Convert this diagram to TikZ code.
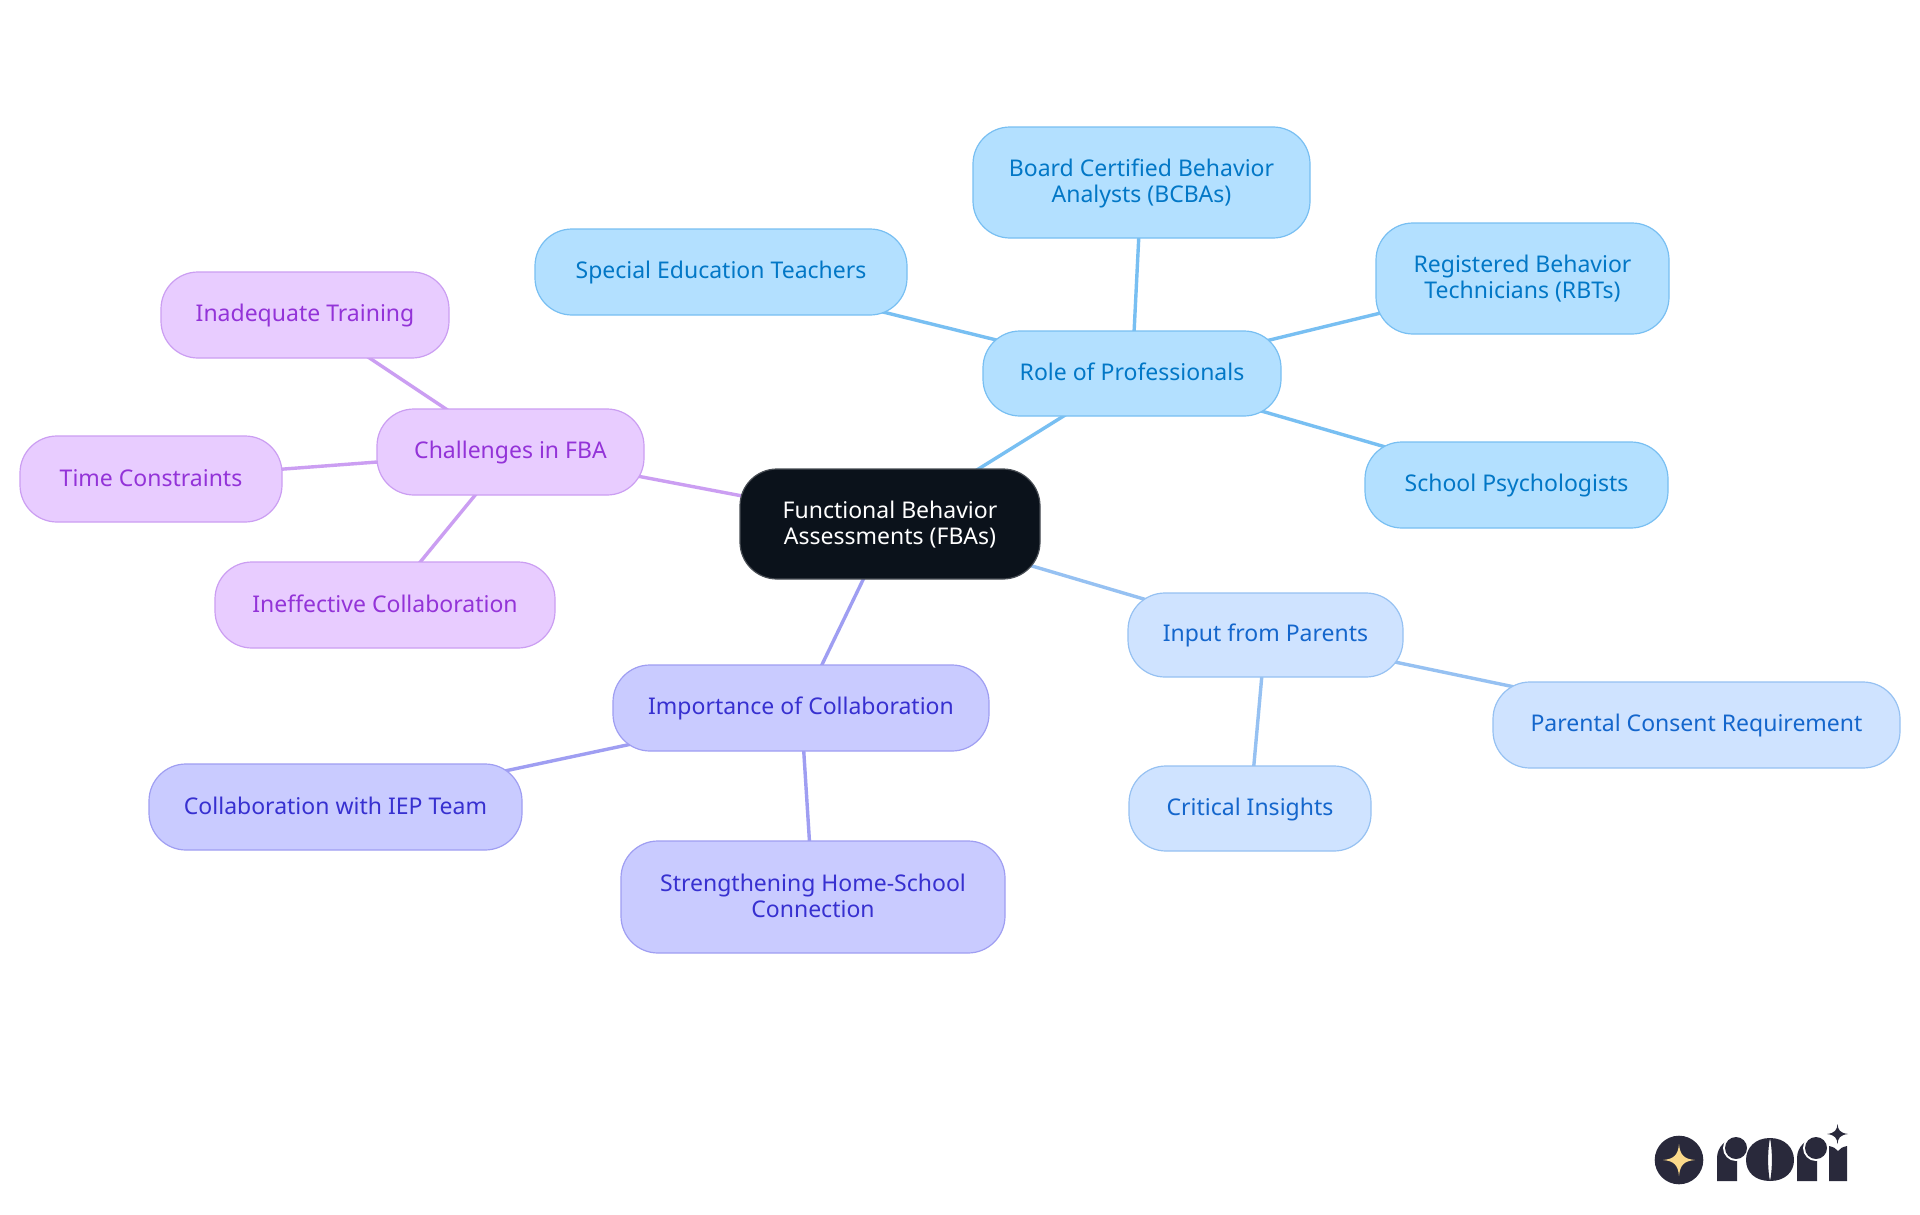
\documentclass[tikz,border=0pt]{standalone}
\usepackage{fontspec}
\setmainfont{Noto Sans}
\usetikzlibrary{backgrounds}
\definecolor{cfill}{HTML}{0B121B}
\definecolor{bfill}{HTML}{B3E0FF}\definecolor{bline}{HTML}{78BFF2}\definecolor{btext}{HTML}{0277C6}
\definecolor{pfill}{HTML}{CFE3FF}\definecolor{pline}{HTML}{96C1F2}\definecolor{ptext}{HTML}{1466CC}
\definecolor{ifill}{HTML}{C9CBFF}\definecolor{iline}{HTML}{9F9EF2}\definecolor{itext}{HTML}{3730D0}
\definecolor{vfill}{HTML}{E8CCFF}\definecolor{vline}{HTML}{CB9EF2}\definecolor{vtext}{HTML}{9333D8}
\definecolor{logod}{HTML}{29293B}\definecolor{logoy}{HTML}{FBD98A}
\tikzset{
 x=1pt,y=-1pt,
 box/.style={draw,rounded corners=37pt,line width=1.2pt,align=center,inner sep=0pt,
   font=\fontsize{23}{25.6}\selectfont},
 cnode/.style={box,fill=cfill,draw=cfill!75!white,text=white},
 bnode/.style={box,fill=bfill,draw=bline,text=btext},
 pnode/.style={box,fill=pfill,draw=pline,text=ptext},
 inode/.style={box,fill=ifill,draw=iline,text=itext},
 vnode/.style={box,fill=vfill,draw=vline,text=vtext},
 link/.style={line width=3.4pt},
}
\newcommand{\mynode}[7]{% style,name,x0,y0,x1,y1,text
 \node[#1,minimum width={#5pt-#3pt},minimum height={#6pt-#4pt}] (#2) at ({(#3+#5)/2},{(#4+#6)/2}) {\rule{0pt}{19.5pt}#7\rule[-5pt]{0pt}{5pt}};}
\begin{document}
\begin{tikzpicture}
\useasboundingbox (0,0) rectangle (1920,1215);
\mynode{cnode}{fba}{740}{469}{1040}{579}{Functional Behavior\\Assessments (FBAs)}
\mynode{bnode}{role}{983}{331}{1281}{416}{Role of Professionals}
\mynode{bnode}{sped}{535}{229}{907}{315}{Special Education Teachers}
\mynode{bnode}{bcba}{973}{127}{1310}{238}{Board Certified Behavior\\Analysts (BCBAs)}
\mynode{bnode}{rbt}{1376}{223}{1669}{334}{Registered Behavior\\Technicians (RBTs)}
\mynode{bnode}{psych}{1365}{442}{1668}{528}{School Psychologists}
\mynode{pnode}{input}{1128}{593}{1403}{677}{Input from Parents}
\mynode{pnode}{consent}{1493}{682}{1900}{768}{Parental Consent Requirement}
\mynode{pnode}{insight}{1129}{766}{1371}{851}{Critical Insights}
\mynode{inode}{collab}{613}{665}{989}{751}{Importance of Collaboration}
\mynode{inode}{iep}{149}{764}{522}{850}{Collaboration with IEP Team}
\mynode{inode}{home}{621}{841}{1005}{953}{Strengthening Home-School\\Connection}
\mynode{vnode}{chal}{377}{409}{644}{495}{Challenges in FBA}
\mynode{vnode}{train}{161}{272}{449}{358}{Inadequate Training}
\mynode{vnode}{time}{20}{436}{282}{522}{Time Constraints}
\mynode{vnode}{ineff}{215}{562}{555}{648}{Ineffective Collaboration}
\begin{pgfonlayer}{background}
\fill[white] (0,0) rectangle (1920,1215);
\draw[link,bline] (fba.center) -- (role.center);
\draw[link,bline] (role.center) -- (sped.center);
\draw[link,bline] (role.center) -- (bcba.center);
\draw[link,bline] (role.center) -- (rbt.center);
\draw[link,bline] (role.center) -- (psych.center);
\draw[link,pline] (fba.center) -- (input.center);
\draw[link,pline] (input.center) -- (consent.center);
\draw[link,pline] (input.center) -- (insight.center);
\draw[link,iline] (fba.center) -- (collab.center);
\draw[link,iline] (collab.center) -- (iep.center);
\draw[link,iline] (collab.center) -- (home.center);
\draw[link,vline] (fba.center) -- (chal.center);
\draw[link,vline] (chal.center) -- (train.center);
\draw[link,vline] (chal.center) -- (time.center);
\draw[link,vline] (chal.center) -- (ineff.center);
\end{pgfonlayer}
% logo
\fill[logod] (1679,1160) circle[radius=24.3];
\fill[logoy] (1679,1144) .. controls (1680,1155) and (1684,1159) .. (1695,1160)
  .. controls (1684,1161) and (1680,1165) .. (1679,1176)
  .. controls (1678,1165) and (1674,1161) .. (1663,1160)
  .. controls (1674,1159) and (1678,1155) .. (1679,1144) -- cycle;
% first r
\fill[logod] (1717,1181) -- (1717,1158) .. controls (1717,1147) and (1726,1138) .. (1737,1138) -- (1737,1181) -- cycle;
\fill[white] (1736,1148) circle[radius=13];
\fill[logod] (1736,1148) circle[radius=11];
% o
\fill[logod] (1770,1138) .. controls (1755,1138) and (1746,1148) .. (1746,1160)
  .. controls (1746,1172) and (1755,1181) .. (1770,1181)
  .. controls (1767.5,1170) and (1767.5,1150) .. (1770,1138) -- cycle;
\fill[logod] (1770,1138) .. controls (1785,1138) and (1794,1148) .. (1794,1160)
  .. controls (1794,1172) and (1785,1181) .. (1770,1181)
  .. controls (1772.5,1170) and (1772.5,1150) .. (1770,1138) -- cycle;
% second r
\fill[logod] (1797,1181) -- (1797,1158) .. controls (1797,1147) and (1806,1138) .. (1817,1138) -- (1817,1181) -- cycle;
\fill[white] (1816,1148) circle[radius=13];
\fill[logod] (1816,1148) circle[radius=11];
% i
\fill[logod] (1829,1181) -- (1829,1146) .. controls (1833,1147) and (1836,1148) .. (1838,1151)
  .. controls (1840,1148) and (1843,1147) .. (1847,1146) -- (1847,1181) -- cycle;
\fill[logod] (1837.5,1124) .. controls (1838,1130) and (1840,1133) .. (1848,1134)
  .. controls (1840,1135) and (1838,1138) .. (1837.5,1144)
  .. controls (1837,1138) and (1835,1135) .. (1827,1134)
  .. controls (1835,1133) and (1837,1130) .. (1837.5,1124) -- cycle;
\end{tikzpicture}
\end{document}
